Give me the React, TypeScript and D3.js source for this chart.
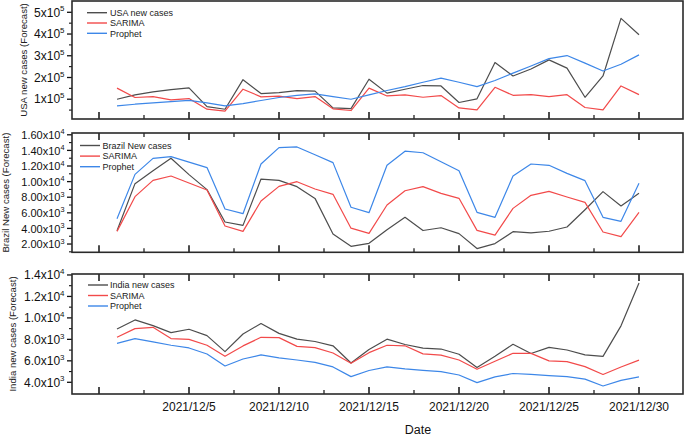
import React from "react";
import * as d3 from "d3";

// dates on the x axis
const dates = [
  "2021-12-01", "2021-12-02", "2021-12-03", "2021-12-04", "2021-12-05", "2021-12-06",
  "2021-12-07", "2021-12-08", "2021-12-09", "2021-12-10", "2021-12-11", "2021-12-12",
  "2021-12-13", "2021-12-14", "2021-12-15", "2021-12-16", "2021-12-17", "2021-12-18",
  "2021-12-19", "2021-12-20", "2021-12-21", "2021-12-22", "2021-12-23", "2021-12-24",
  "2021-12-25", "2021-12-26", "2021-12-27", "2021-12-28", "2021-12-29", "2021-12-30",
];

const usaCases = [100000, 120000, 134000, 144000, 152000, 66000, 54000, 190000, 126000, 130000, 140000, 137000, 60000, 57000, 192000, 128000, 146000, 163000, 161000, 85000, 102000, 269000, 207000, 239000, 281000, 243000, 109000, 207000, 472000, 397000];
const usaSarima = [151000, 108000, 112000, 97000, 103000, 54000, 45000, 146000, 111000, 114000, 103000, 112000, 56000, 48000, 151000, 115000, 120000, 109000, 117000, 60000, 51000, 155000, 118000, 121000, 112000, 121000, 62000, 51000, 161000, 121000];
const usaProphet = [69000, 77000, 83000, 89000, 95000, 83000, 69000, 80000, 94000, 108000, 118000, 125000, 112000, 100000, 120000, 140000, 158000, 178000, 197000, 178000, 158000, 186000, 220000, 253000, 287000, 301000, 266000, 230000, 261000, 304000];

const brazilCases = [3710, 9740, 11400, 13000, 10900, 8970, 4820, 4390, 10330, 10160, 9350, 7850, 3280, 1700, 2090, 3840, 5420, 3730, 4090, 3330, 1420, 2060, 3580, 3430, 3640, 4180, 6400, 8720, 6880, 8500];
const brazilSarima = [3620, 8070, 10160, 10720, 9820, 8920, 4310, 3620, 7510, 9390, 9990, 9050, 8370, 4030, 3370, 7000, 8830, 9350, 8500, 7860, 3750, 3150, 6570, 8240, 8750, 8030, 7340, 3540, 2940, 6060];
const brazilProphet = [5250, 10930, 12980, 13200, 12500, 11800, 6490, 5890, 12260, 14350, 14440, 13450, 12430, 6720, 6020, 12100, 13900, 13700, 12550, 11400, 6060, 5420, 10720, 12260, 12090, 11060, 10120, 5420, 4910, 9780];

const indiaCases = [8970, 9810, 9280, 8630, 8940, 8350, 6860, 8500, 9480, 8560, 8020, 7800, 7400, 5800, 7050, 8020, 7520, 7180, 7100, 6610, 5370, 6420, 7540, 6680, 7260, 7010, 6550, 6420, 9260, 13250];
const indiaSarima = [8190, 9000, 9120, 8070, 8000, 7450, 6420, 7390, 8190, 8160, 7350, 7230, 6730, 5770, 6760, 7450, 7400, 6650, 6530, 6080, 5220, 5960, 6700, 6690, 6000, 5930, 5460, 4730, 5430, 6070];
const indiaProphet = [7630, 8070, 7760, 7450, 7200, 6640, 5520, 6170, 6550, 6270, 6080, 5860, 5430, 4530, 5100, 5430, 5250, 5110, 5000, 4680, 3970, 4510, 4820, 4730, 4630, 4530, 4300, 3660, 4180, 4510];

// axis ticks
const usaTicks = [100000, 200000, 300000, 400000, 500000];
const usaMinorTicks = [50000, 150000, 250000, 350000, 450000];
const brazilTicks = [2000, 4000, 6000, 8000, 10000, 12000, 14000, 16000];
const brazilMinorTicks = [1000, 3000, 5000, 7000, 9000, 11000, 13000, 15000];
const indiaTicks = [4000, 6000, 8000, 10000, 12000, 14000];
const indiaMinorTicks = [5000, 7000, 9000, 11000, 13000];

const majorTickDays = ["2021-11-30", "2021-12-05", "2021-12-10", "2021-12-15", "2021-12-20", "2021-12-25", "2021-12-30"];
const dateTickLabels = ["", "2021/12/5", "2021/12/10", "2021/12/15", "2021/12/20", "2021/12/25", "2021/12/30"];
const minorTickDays = ["2021-12-02", "2021-12-07", "2021-12-12", "2021-12-17", "2021-12-22", "2021-12-27"];

const seriesColors = ["#4d4d4d", "#f24a4a", "#3d87e8"];

const FONT = "'Liberation Sans', Arial, Helvetica, sans-serif";
const parseDay = d3.timeParse("%Y-%m-%d");
const plotLeft = 72, plotRight = 683;

const x = d3.scaleTime()
  .domain([parseDay("2021-12-01")!, parseDay("2021-12-30")!])
  .range([117, 639]);

const majorDates = majorTickDays.map(s => parseDay(s)!);
const minorDates = minorTickDays.map(s => d3.timeHour.offset(parseDay(s)!, 12));

function SciLabel({ v, digits, px, py, size }: { v: number, digits: number, px: number, py: number, size: number }) {
  const [m, e] = v.toExponential(digits).split("e");
  return (
    <text x={px} y={py} textAnchor="end" fontSize={size} fill="#111">
      {m}x10<tspan dy={-size * 0.42} fontSize={size * 0.66}>{+e}</tspan>
    </text>
  );
}

function Panel(p: any) {
  const y = d3.scaleLinear().domain(p.domain).range([p.bottom, p.top]);
  const line = d3.line<number>()
    .x((_, i) => x(parseDay(dates[i])!))
    .y(v => y(v));

  return (
    <g>
      {p.series.map((s: number[], i: number) => (
        <path key={i} d={line(s)!} fill="none" stroke={seriesColors[i]} strokeWidth={1.2} strokeLinejoin="round" />
      ))}
      {/* legend */}
      {p.names.map((n: string, i: number) => {
        const ly = p.legend.y0 + i * p.legend.dy;
        return (
          <g key={n}>
            <line x1={p.legend.x1} x2={p.legend.x2} y1={ly} y2={ly} stroke={seriesColors[i]} strokeWidth={1.4} />
            <text x={p.legend.tx} y={ly + 3.2} fontSize={9} fill="#222">{n}</text>
          </g>
        );
      })}
      {/* x ticks, inward */}
      {majorDates.map((d, i) => (
        <g key={"M" + i}>
          <line x1={x(d)} x2={x(d)} y1={p.bottom} y2={p.bottom - 7} stroke="#111" strokeWidth={1.5} />
          {p.topTicks && <line x1={x(d)} x2={x(d)} y1={p.top} y2={p.top + 7} stroke="#111" strokeWidth={1.5} />}
        </g>
      ))}
      {minorDates.map((d, i) => (
        <g key={"m" + i}>
          <line x1={x(d)} x2={x(d)} y1={p.bottom} y2={p.bottom - 4} stroke="#111" strokeWidth={1.2} />
          {p.topTicks && <line x1={x(d)} x2={x(d)} y1={p.top} y2={p.top + 4} stroke="#111" strokeWidth={1.2} />}
        </g>
      ))}
      {/* y ticks, outward */}
      {p.majors.map((v: number) => (
        <g key={v}>
          <line x1={plotLeft - 5} x2={plotLeft} y1={y(v)} y2={y(v)} stroke="#111" strokeWidth={1.3} />
          <SciLabel v={v} digits={p.digits} px={plotLeft - 7.5} py={y(v) + 4.2} size={p.tickSize} />
        </g>
      ))}
      {p.minors.map((v: number) => (
        <line key={v} x1={plotLeft - 3} x2={plotLeft} y1={y(v)} y2={y(v)} stroke="#111" strokeWidth={1.1} />
      ))}
      <rect x={plotLeft} y={p.top} width={plotRight - plotLeft} height={p.bottom - p.top}
        fill="none" stroke="#2a2a2a" strokeWidth={1.6} />
      <text transform={`translate(${p.titleX},${(p.top + p.bottom) / 2}) rotate(-90)`}
        textAnchor="middle" fontSize={9.6} fill="#222">{p.title}</text>
    </g>
  );
}

const panels = [
  {
    top: 1, bottom: 119, domain: [9000, 552000], majors: usaTicks, minors: usaMinorTicks, digits: 0, tickSize: 12,
    series: [usaCases, usaSarima, usaProphet], names: ["USA new cases", "SARIMA", "Prophet"],
    title: "USA new cases (Forecast)", titleX: 27, topTicks: false,
    legend: { x1: 87, x2: 107, tx: 110, y0: 12.7, dy: 10.3 },
  },
  {
    top: 133, bottom: 252.3, domain: [940, 16230], majors: brazilTicks, minors: brazilMinorTicks, digits: 2, tickSize: 11,
    series: [brazilCases, brazilSarima, brazilProphet], names: ["Brazil New cases", "SARIMA", "Prophet"],
    title: "Brazil New cases (Forecast)", titleX: 8.5, topTicks: true,
    legend: { x1: 80, x2: 100, tx: 102.5, y0: 145.5, dy: 10.6 },
  },
  {
    top: 274, bottom: 394, domain: [2910, 14090], majors: indiaTicks, minors: indiaMinorTicks, digits: 1, tickSize: 12,
    series: [indiaCases, indiaSarima, indiaProphet], names: ["India new cases", "SARIMA", "Prophet"],
    title: "India new cases (Forecast)", titleX: 16, topTicks: true,
    legend: { x1: 88, x2: 108, tx: 110, y0: 285, dy: 10.5 },
  },
];

export default function App() {
  return (
    <svg width={685} height={437} style={{ position: "fixed", left: 0, top: 0, background: "#fff" }}
      fontFamily={FONT}>
      {panels.map((p, i) => <Panel key={i} {...p} />)}
      {majorDates.map((d, i) => (
        <text key={i} x={x(d)} y={410.5} textAnchor="middle" fontSize={12} fill="#111">{dateTickLabels[i]}</text>
      ))}
      <text x={418} y={433.5} textAnchor="middle" fontSize={12.5} fill="#111">Date</text>
    </svg>
  );
}
